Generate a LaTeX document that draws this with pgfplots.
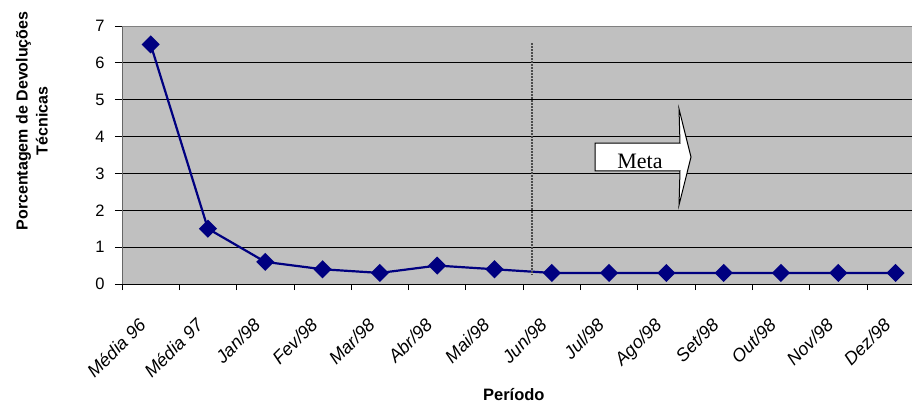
\documentclass[border=0pt]{standalone}
\usepackage{pgfplots}
\pgfplotsset{compat=1.18}
\usepackage{fontspec}
\setmainfont{Liberation Sans}
\newfontfamily\seriffont{Liberation Serif}
\definecolor{plotgray}{HTML}{C0C0C0}
\definecolor{navyblue}{HTML}{000080}
\begin{document}
\begin{tikzpicture}
\useasboundingbox (-122pt,-125pt) rectangle (790pt,284pt);
\begin{axis}[
  at={(0,0)}, anchor=south west,
  scale only axis, width=790pt, height=258pt,
  xmin=0, xmax=13.787, ymin=0, ymax=7,
  axis x line*=bottom, axis y line*=left,
  x axis line style={-, black, line width=0.9pt},
  y axis line style={-, black!60, line width=0.9pt},
  axis background/.style={fill=plotgray},
  ytick={0,1,...,7},
  ymajorgrids,
  major grid style={black, line width=0.8pt},
  xtick={0.5,1.5,...,13.5},
  xticklabels={Média 96,Média 97,Jan/98,Fev/98,Mar/98,Abr/98,Mai/98,Jun/98,Jul/98,Ago/98,Set/98,Out/98,Nov/98,Dez/98},
  minor xtick={0,1,...,13},
  tick align=outside,
  major x tick style={draw=none},
  major tick length=7pt, minor tick length=6pt,
  every tick/.style={black, line width=0.8pt},
  xticklabel style={xshift=-13pt, yshift=-21pt, rotate=45, anchor=north east, font=\fontsize{18}{21}\selectfont\itshape},
  yticklabel style={font=\fontsize{16.5}{19}\selectfont, xshift=-7pt},
  /pgf/number format/assume math mode=true,
  ylabel={Porcentagem de Devoluções\\Técnicas},
  ylabel style={align=center, font=\bfseries\fontsize{16}{20}\selectfont, at={(rel axis cs:-0.114,0.632)}, anchor=center},
  xlabel={Período},
  xlabel style={at={(rel axis cs:0.496,-0.43)}, anchor=center, font=\bfseries\fontsize{16.5}{19}\selectfont},
  clip=false,
]
\addplot[navyblue, line width=2.2pt, mark=square*, mark size=5.3pt, mark options={rotate=45, solid, fill=navyblue}]
  coordinates {(0.5,6.5) (1.5,1.5) (2.5,0.6) (3.5,0.4) (4.5,0.3) (5.5,0.5) (6.5,0.4) (7.5,0.3) (8.5,0.3) (9.5,0.3) (10.5,0.3) (11.5,0.3) (12.5,0.3) (13.5,0.3)};
\draw[black!50, line width=0.9pt] (axis cs:0,7) -- (axis cs:13.787,7);
\draw[black!70, line width=1.6pt, dash pattern=on 1.4pt off 1.6pt] (axis cs:7.16,6.53) -- (axis cs:7.16,0.24);
\draw[black, line width=1pt, fill=white]
  (axis cs:8.255,3.825) -- (axis cs:9.738,3.825) -- (axis cs:9.721,4.748) -- (axis cs:9.930,3.445)
  -- (axis cs:9.721,2.143) -- (axis cs:9.738,3.066) -- (axis cs:8.255,3.066) -- cycle;
\node[anchor=base, font=\seriffont\fontsize{22}{26}\selectfont, inner sep=0pt] at (axis cs:9.04,3.147) {Meta};
\end{axis}
\end{tikzpicture}
\end{document}
